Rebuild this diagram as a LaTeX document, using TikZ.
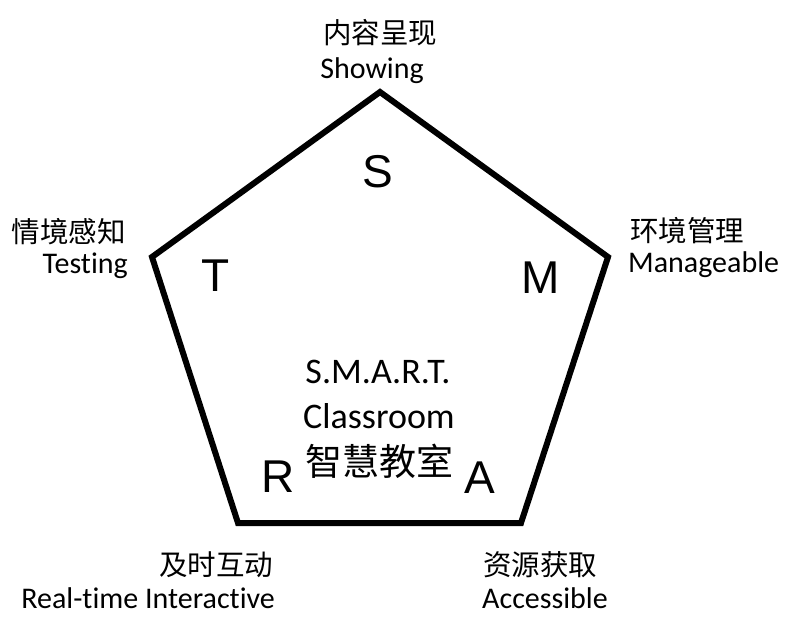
\documentclass[tikz,border=0pt]{standalone}
\usepackage{fontspec}
\setmainfont{Carlito}[Ligatures=NoCommon]
\newfontfamily\cjk{Noto Sans CJK SC}
\newfontfamily\arialish{Liberation Sans}
\usetikzlibrary{positioning}

\begin{document}
\begin{tikzpicture}[x=1pt,y=-1pt,inner sep=0pt,
    en/.style={font=\fontsize{30}{30}\selectfont},
    zh/.style={font=\cjk\fontsize{28.5}{28.5}\selectfont},
    letter/.style={font=\arialish\fontsize{46}{46}\selectfont,anchor=base}]
    \useasboundingbox (0,0) rectangle (788,635);

    \coordinate (top)  at (380,92);
    \coordinate (rgt)  at (608,257);
    \coordinate (brt)  at (521,523);
    \coordinate (blt)  at (238,523);
    \coordinate (lft)  at (152,257);
    \draw[line width=6pt] (top) -- (rgt) -- (brt) -- (blt) -- (lft) -- cycle;

    \node[letter] (S) at (378,187) {S};
    \node[letter] (M) at (541,293) {M};
    \node[letter] (A) at (480,493) {A};
    \node[letter] (R) at (278,492) {R};
    \node[letter] (T) at (216,291) {T};

    \node[en,anchor=base]      (showing) at (372,78)  {Showing};
    \node[zh]                  (neirong) at (380,33)  {内容呈现};
    \node[en,anchor=base west] (manage)  at (628,272) {Manageable};
    \node[zh]                  (huanjing) at (687,231) {环境管理};
    \node[en,anchor=base west] (access)  at (482,608) {Accessible};
    \node[zh]                  (ziyuan)  at (540,565) {资源获取};
    \node[en,anchor=base east] (realtime) at (275,608) {Real-time Interactive};
    \node[zh]                  (jishi)   at (216,565) {及时互动};
    \node[en,anchor=base east] (testing) at (128,273) {Testing};
    \node[zh]                  (qingjing) at (69,232) {情境感知};

    \node[font=\fontsize{36}{36}\selectfont,anchor=base] (smart) at (378,383) {S.M.A.R.T.};
    \node[font=\fontsize{36}{36}\selectfont,anchor=base] (classroom) at (379,428) {Classroom};
    \node[font=\cjk\fontsize{37}{37}\selectfont] (zhihui) at (379,461) {智慧教室};
\end{tikzpicture}
\end{document}
